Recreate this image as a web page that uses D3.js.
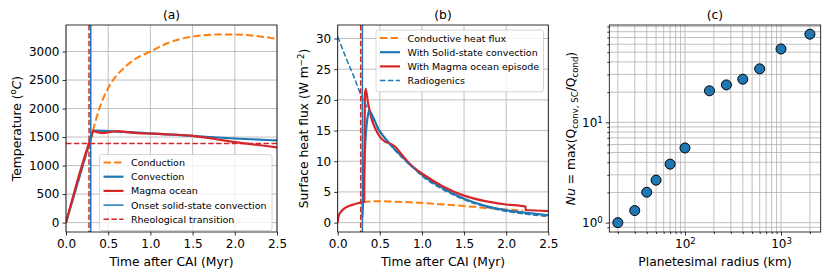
<!DOCTYPE html>
<html>
<head>
<meta charset="utf-8">
<script src="https://cdn.jsdelivr.net/npm/d3@7"></script>
<style>
  body { margin: 0; background: #fff; }
  svg { display: block; font-family: "DejaVu Sans", sans-serif; }
</style>
</head>
<body>
<div id="chart-area"></div>
<script>
// (a) temperature, degC vs Myr after CAI
const condTime  = [0, 0.1, 0.2, 0.28, 0.3, 0.35, 0.4, 0.5, 0.6, 0.7, 0.8, 1.0, 1.2, 1.4, 1.6, 1.8, 2.0, 2.2, 2.4, 2.5];
const condTemp  = [0, 500, 1000, 1400, 1510, 1780, 2020, 2360, 2580, 2730, 2850, 3000, 3145, 3235, 3280, 3300, 3298, 3280, 3245, 3222];
const convTime  = [0, 0.28, 0.3, 0.33, 0.5, 0.75, 1.0, 1.5, 2.0, 2.5];
const convTemp  = [0, 1420, 1520, 1615, 1605, 1585, 1565, 1520, 1475, 1440];
const magmaTime = [0, 0.28, 0.3, 0.32, 0.36, 0.45, 0.55, 0.62, 0.7, 0.85, 1.0, 1.2, 1.5, 1.75, 2.0, 2.25, 2.5];
const magmaTemp = [0, 1420, 1500, 1610, 1590, 1570, 1595, 1605, 1590, 1570, 1560, 1548, 1520, 1470, 1410, 1365, 1320];
const onsetTime = 0.293;
const rheoTime  = 0.273;
const rheoTemp  = 1386;

// (b) surface heat flux, W m^-2
const condFluxTime  = [0.3, 0.4, 0.5, 0.6, 0.8, 1.0, 1.25, 1.5, 1.75, 2.0, 2.2];
const condFlux      = [3.35, 3.45, 3.5, 3.45, 3.35, 3.2, 2.97, 2.7, 2.4, 2.15, 1.95];
const solidFluxTime = [0.293, 0.305, 0.32, 0.34, 0.36, 0.375, 0.42, 0.48, 0.56, 0.68, 0.8, 0.9, 1.0, 1.25, 1.5, 1.75, 2.0, 2.25, 2.5];
const solidFlux     = [0.8, 5, 11, 15.5, 17.6, 18.2, 17.2, 15.3, 13.8, 11.9, 10.3, 9.0, 7.8, 5.6, 3.9, 2.75, 2.0, 1.6, 1.2];
const magmaFluxTime = [0, 0.01, 0.03, 0.06, 0.1, 0.15, 0.2, 0.25, 0.315, 0.322, 0.332, 0.36, 0.404, 0.45, 0.5, 0.56, 0.62, 0.68, 0.76, 0.88, 1.0, 1.25, 1.5, 1.75, 2.0, 2.23, 2.232, 2.5];
const magmaFlux     = [0, 1.0, 1.6, 2.1, 2.5, 2.8, 3.0, 3.2, 3.4, 20.5, 21.8, 19.5, 16.8, 15.2, 14.0, 13.2, 12.9, 12.4, 11.1, 9.2, 8.0, 5.9, 4.4, 3.5, 2.95, 2.6, 2.05, 1.88];
const radTime       = [0, 0.1, 0.2, 0.285, 0.33, 0.38, 0.45, 0.56, 0.68, 0.8, 0.9, 1.0, 1.25, 1.5, 1.75, 2.0, 2.25, 2.5];
const radFlux       = [30.3, 26.8, 23.5, 20.5, 19.3, 17.9, 16.2, 13.7, 11.8, 10.1, 8.9, 7.6, 5.4, 3.75, 2.6, 1.85, 1.35, 1.0];

// (c) Nusselt number vs planetesimal radius
const radiusKm = [20, 30, 40, 50, 70, 100, 180, 270, 400, 600, 1000, 2000];
const nusselt  = [1.0, 1.32, 2.01, 2.65, 3.83, 5.55, 20.6, 23.6, 26.9, 34.1, 53.8, 75.6];

const timeTicks = [0, 0.5, 1.0, 1.5, 2.0, 2.5];
const tempTicks = [0, 500, 1000, 1500, 2000, 2500, 3000];
const fluxTicks = [0, 5, 10, 15, 20, 25, 30];

const blue = "#1f77b4", orange = "#ff7f0e", red = "#d62728", gridColor = "#b0b0b0";
const plotTop = 25, plotBottom = 232;

const svg = d3.select("#chart-area").append("svg")
  .attr("width", 830)
  .attr("height", 277);

function drawGrid(g, x, y, xs, ys) {
  const grid = g.append("g").attr("class", "grid");
  grid.selectAll(".gx").data(xs).enter().append("line")
    .attr("x1", d => x(d)).attr("x2", d => x(d))
    .attr("y1", plotTop).attr("y2", plotBottom)
    .attr("stroke", gridColor).attr("stroke-width", 0.8);
  grid.selectAll(".gy").data(ys).enter().append("line")
    .attr("x1", x.range()[0]).attr("x2", x.range()[1])
    .attr("y1", d => y(d)).attr("y2", d => y(d))
    .attr("stroke", gridColor).attr("stroke-width", 0.8);
}

function styleAxis(sel) {
  sel.select(".domain").remove();
  sel.selectAll(".tick line").attr("stroke", "#000").attr("stroke-width", 0.8);
  sel.selectAll(".tick text").attr("font-size", 12).attr("fill", "#000").attr("font-family", "DejaVu Sans");
}

function drawFrame(g, x) {
  g.append("rect")
    .attr("x", x.range()[0]).attr("y", plotTop)
    .attr("width", x.range()[1] - x.range()[0]).attr("height", plotBottom - plotTop)
    .attr("fill", "none").attr("stroke", "#000").attr("stroke-width", 0.8);
}

function addTitle(g, x, label) {
  g.append("text")
    .attr("x", (x.range()[0] + x.range()[1]) / 2)
    .attr("y", 19)
    .attr("text-anchor", "middle")
    .attr("font-size", 12.3)
    .text(label);
}

function addXLabel(g, x, label) {
  g.append("text")
    .attr("x", (x.range()[0] + x.range()[1]) / 2)
    .attr("y", 265.5)
    .attr("text-anchor", "middle")
    .attr("font-size", 12.3)
    .text(label);
}

function addLine(g, x, y, xs, ys, color, width, dash) {
  const line = d3.line().x(d => x(d[0])).y(d => y(d[1])).curve(d3.curveMonotoneX);
  g.append("path")
    .datum(d3.zip(xs, ys))
    .attr("d", line)
    .attr("fill", "none")
    .attr("stroke", color)
    .attr("stroke-width", width)
    .attr("stroke-dasharray", dash || null);
}

function addLegend(g, left, topY, width, items) {
  const rowH = 14.2;
  const legend = g.append("g").attr("transform", "translate(" + left + "," + topY + ")");
  legend.append("rect")
    .attr("width", width).attr("height", items.length * rowH + 5)
    .attr("rx", 2.5)
    .attr("fill", "#fff").attr("fill-opacity", 0.8)
    .attr("stroke", "#cccccc").attr("stroke-width", 0.8);
  items.forEach((it, i) => {
    const cy = 8 + i * rowH;
    legend.append("line")
      .attr("x1", 4).attr("x2", 24).attr("y1", cy).attr("y2", cy)
      .attr("stroke", it.color).attr("stroke-width", it.width)
      .attr("stroke-dasharray", it.dash || null);
    legend.append("text")
      .attr("x", 31.5).attr("y", cy + 3.5)
      .attr("font-size", 9.5)
      .text(it.label);
  });
}

// ---------- panel (a)
{
  const x = d3.scaleLinear().domain([0, 2.5]).range([66, 277]);
  const y = d3.scaleLinear().domain([-165, 3465]).range([plotBottom, plotTop]);
  const g = svg.append("g");
  drawGrid(g, x, y, timeTicks, tempTicks);

  g.append("clipPath").attr("id", "clip-a").append("rect")
    .attr("x", 66).attr("y", plotTop).attr("width", 211).attr("height", plotBottom - plotTop);
  const plot = g.append("g").attr("clip-path", "url(#clip-a)");

  addLine(plot, x, y, condTime, condTemp, orange, 2, "7.4,3.2");
  addLine(plot, x, y, convTime, convTemp, blue, 2.2);
  addLine(plot, x, y, magmaTime, magmaTemp, red, 2.2);
  plot.append("line")
    .attr("x1", x(onsetTime)).attr("x2", x(onsetTime)).attr("y1", plotTop).attr("y2", plotBottom)
    .attr("stroke", blue).attr("stroke-width", 1.5);
  plot.append("line")
    .attr("x1", x(rheoTime)).attr("x2", x(rheoTime)).attr("y1", plotTop).attr("y2", plotBottom)
    .attr("stroke", red).attr("stroke-width", 1.5).attr("stroke-dasharray", "5.5,2.4");
  plot.append("line")
    .attr("x1", 66).attr("x2", 277).attr("y1", y(rheoTemp)).attr("y2", y(rheoTemp))
    .attr("stroke", red).attr("stroke-width", 1.5).attr("stroke-dasharray", "5.5,2.4");

  g.append("g").attr("transform", "translate(0," + plotBottom + ")")
    .call(d3.axisBottom(x).tickValues(timeTicks).tickFormat(d3.format(".1f")).tickSize(3.5).tickPadding(4.3))
    .call(styleAxis);
  g.append("g").attr("transform", "translate(66,0)")
    .call(d3.axisLeft(y).tickValues(tempTicks).tickFormat(d3.format("d")).tickSize(3.5).tickPadding(3))
    .call(styleAxis);
  drawFrame(g, x);
  addTitle(g, x, "(a)");
  addXLabel(g, x, "Time after CAI (Myr)");

  const yl = g.append("text")
    .attr("transform", "translate(20.5," + ((plotTop + plotBottom) / 2) + ") rotate(-90)")
    .attr("text-anchor", "middle")
    .attr("font-size", 12.3);
  yl.append("tspan").text("Temperature (");
  yl.append("tspan").attr("dy", -4.5).attr("font-size", 8.6).text("o");
  yl.append("tspan").attr("dy", 4.5).attr("font-style", "italic").text("C");
  yl.append("tspan").text(")");

  addLegend(g, 99.5, 154.5, 172.5, [
    { label: "Conduction", color: orange, width: 2, dash: "7.4,3.2" },
    { label: "Convection", color: blue, width: 2.2 },
    { label: "Magma ocean", color: red, width: 2.2 },
    { label: "Onset solid-state convection", color: blue, width: 1.5 },
    { label: "Rheological transition", color: red, width: 1.5, dash: "5.5,2.4" }
  ]);
}

// ---------- panel (b)
{
  const x = d3.scaleLinear().domain([0, 2.5]).range([337.7, 548.3]);
  const y = d3.scaleLinear().domain([-1.53, 32.2]).range([plotBottom, plotTop]);
  const g = svg.append("g");
  drawGrid(g, x, y, timeTicks, fluxTicks);

  g.append("clipPath").attr("id", "clip-b").append("rect")
    .attr("x", 337.7).attr("y", plotTop).attr("width", 210.6).attr("height", plotBottom - plotTop);
  const plot = g.append("g").attr("clip-path", "url(#clip-b)");

  addLine(plot, x, y, condFluxTime, condFlux, orange, 2, "7.4,3.2");
  addLine(plot, x, y, solidFluxTime, solidFlux, blue, 2.2);
  addLine(plot, x, y, magmaFluxTime, magmaFlux, red, 2.2);
  addLine(plot, x, y, radTime, radFlux, blue, 1.5, "5.5,2.4");
  plot.append("line")
    .attr("x1", x(onsetTime)).attr("x2", x(onsetTime)).attr("y1", plotTop).attr("y2", plotBottom)
    .attr("stroke", blue).attr("stroke-width", 1.5);
  plot.append("line")
    .attr("x1", x(rheoTime)).attr("x2", x(rheoTime)).attr("y1", plotTop).attr("y2", plotBottom)
    .attr("stroke", red).attr("stroke-width", 1.5).attr("stroke-dasharray", "5.5,2.4");

  g.append("g").attr("transform", "translate(0," + plotBottom + ")")
    .call(d3.axisBottom(x).tickValues(timeTicks).tickFormat(d3.format(".1f")).tickSize(3.5).tickPadding(4.3))
    .call(styleAxis);
  g.append("g").attr("transform", "translate(337.7,0)")
    .call(d3.axisLeft(y).tickValues(fluxTicks).tickFormat(d3.format("d")).tickSize(3.5).tickPadding(3))
    .call(styleAxis);
  drawFrame(g, x);
  addTitle(g, x, "(b)");
  addXLabel(g, x, "Time after CAI (Myr)");

  const yl = g.append("text")
    .attr("transform", "translate(308," + ((plotTop + plotBottom) / 2) + ") rotate(-90)")
    .attr("text-anchor", "middle")
    .attr("font-size", 12.3);
  yl.append("tspan").text("Surface heat flux (W m");
  yl.append("tspan").attr("dy", -4.5).attr("font-size", 8.6).text("\u22122");
  yl.append("tspan").attr("dy", 4.5).text(")");

  addLegend(g, 376, 30, 167.5, [
    { label: "Conductive heat flux", color: orange, width: 2, dash: "7.4,3.2" },
    { label: "With Solid-state convection", color: blue, width: 2.2 },
    { label: "With Magma ocean episode", color: red, width: 2.2 },
    { label: "Radiogenics", color: blue, width: 1.5, dash: "5.5,2.4" }
  ]);
}

// ---------- panel (c)
{
  const x = d3.scaleLog().domain([16.3, 2590]).range([609.3, 820.7]);
  const y = d3.scaleLog().domain([0.807, 93.3]).range([plotBottom, plotTop]);
  const g = svg.append("g");

  const xMinor = [20, 30, 40, 50, 60, 70, 80, 90, 200, 300, 400, 500, 600, 700, 800, 900, 2000];
  const yMinor = [0.9, 2, 3, 4, 5, 6, 7, 8, 9, 20, 30, 40, 50, 60, 70, 80, 90];
  const xMajor = [100, 1000];
  const yMajor = [1, 10];
  drawGrid(g, x, y, xMajor.concat(xMinor), yMajor.concat(yMinor));

  g.selectAll("circle").data(d3.zip(radiusKm, nusselt)).enter().append("circle")
    .attr("cx", d => x(d[0]))
    .attr("cy", d => y(d[1]))
    .attr("r", 5)
    .attr("fill", blue)
    .attr("stroke", "#000")
    .attr("stroke-width", 1);

  const powerLabel = function(sel) {
    sel.selectAll(".tick text").each(function(d) {
      const t = d3.select(this);
      t.text("");
      t.append("tspan").text("10");
      t.append("tspan").attr("dy", "-0.45em").attr("font-size", 8.6).text(Math.round(Math.log10(d)));
    });
  };

  g.append("g").attr("transform", "translate(0," + plotBottom + ")")
    .call(d3.axisBottom(x).tickValues(xMajor).tickFormat(() => "").tickSize(3.5).tickPadding(4.3))
    .call(styleAxis).call(powerLabel);
  g.append("g").attr("transform", "translate(0," + plotBottom + ")")
    .call(d3.axisBottom(x).tickValues(xMinor).tickFormat(() => "").tickSize(2))
    .call(styleAxis);
  g.append("g").attr("transform", "translate(609.3,0)")
    .call(d3.axisLeft(y).tickValues(yMajor).tickFormat(() => "").tickSize(3.5).tickPadding(3))
    .call(styleAxis).call(powerLabel);
  g.append("g").attr("transform", "translate(609.3,0)")
    .call(d3.axisLeft(y).tickValues(yMinor).tickFormat(() => "").tickSize(2))
    .call(styleAxis);

  drawFrame(g, x);
  addTitle(g, x, "(c)");
  addXLabel(g, x, "Planetesimal radius (km)");

  const yl = g.append("text")
    .attr("transform", "translate(574.5," + ((plotTop + plotBottom) / 2) + ") rotate(-90)")
    .attr("text-anchor", "middle")
    .attr("font-size", 12.3);
  yl.append("tspan").attr("font-style", "italic").text("Nu");
  yl.append("tspan").text(" = max(Q");
  yl.append("tspan").attr("dy", 3).attr("font-size", 8.6).text("conv, SC");
  yl.append("tspan").attr("dy", -3).text("/Q");
  yl.append("tspan").attr("dy", 3).attr("font-size", 8.6).text("cond");
  yl.append("tspan").attr("dy", -3).text(")");
}
</script>
</body>
</html>
